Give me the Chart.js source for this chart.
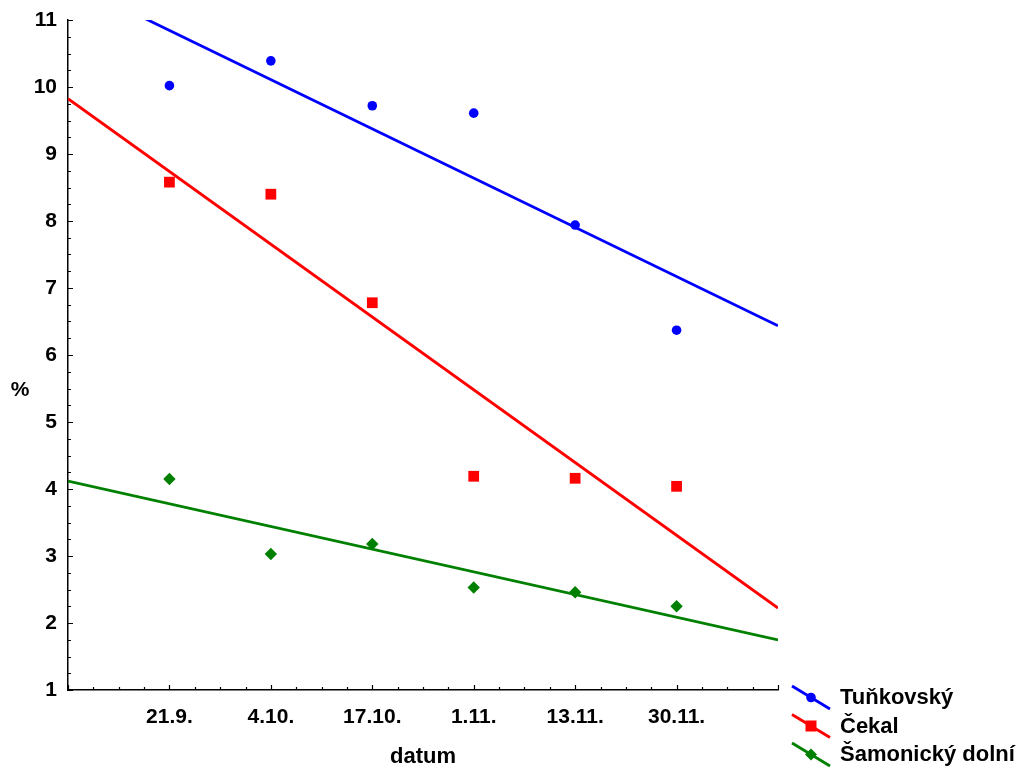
<!DOCTYPE html>
<html><head><meta charset="utf-8">
<script src="https://cdn.jsdelivr.net/npm/chart.js@4/dist/chart.umd.min.js"></script>
<style>html,body{margin:0;padding:0;background:#fff}#wrap{width:1027px;height:769px}</style>
</head><body><div id="wrap"><canvas id="c" width="1027" height="769"></canvas></div>
<script>
const categories = ['21.9.', '4.10.', '17.10.', '1.11.', '13.11.', '30.11.'];
const tunkovsky = [10.02, 10.39, 9.72, 9.61, 7.94, 6.37];
const cekal = [8.58, 8.40, 6.78, 4.19, 4.16, 4.04];
const samonicky = [4.15, 3.03, 3.18, 2.53, 2.46, 2.25];
const seriesNames = ['Tuňkovský', 'Čekal', 'Šamonický dolní'];
const seriesColors = ['#0000ff', '#ff0000', '#008000'];
const seriesMarkers = ['circle', 'rect', 'rectRot'];
const yTickValues = [1, 2, 3, 4, 5, 6, 7, 8, 9, 10, 11];
const xAxisLabel = 'datum';
const yAxisLabel = '%';

const X_MIN = 0, X_MAX = categories.length + 1;
const FONT = '"Liberation Sans", Arial, sans-serif';

function points(vals) { return vals.map((v, i) => ({ x: i + 1, y: v })); }
function trend(vals) {
  const n = vals.length;
  const xs = vals.map((_, i) => i + 1);
  const mx = xs.reduce((a, b) => a + b, 0) / n;
  const my = vals.reduce((a, b) => a + b, 0) / n;
  let sxy = 0, sxx = 0;
  for (let i = 0; i < n; i++) { sxy += (xs[i] - mx) * (vals[i] - my); sxx += (xs[i] - mx) ** 2; }
  const b = sxy / sxx, a = my - b * mx;
  return [{ x: X_MIN, y: a + b * X_MIN }, { x: X_MAX, y: a + b * X_MAX }];
}

const markerRadius = [4.8, 7.6, 6.2];
const allSeries = [tunkovsky, cekal, samonicky];
const datasets = [];
allSeries.forEach((vals, i) => {
  datasets.push({
    label: seriesNames[i] + ' trend', data: trend(vals), showLine: true,
    borderColor: seriesColors[i], borderWidth: 2.8, pointRadius: 0, fill: false
  });
});
allSeries.forEach((vals, i) => {
  datasets.push({
    label: seriesNames[i], data: points(vals), showLine: false,
    pointStyle: seriesMarkers[i], pointRadius: markerRadius[i],
    backgroundColor: seriesColors[i], borderColor: seriesColors[i], borderWidth: 0
  });
});

const decor = {
  id: 'decor',
  afterDraw(chart) {
    const ctx = chart.ctx, xs = chart.scales.x, ys = chart.scales.y, ca = chart.chartArea;
    ctx.save();
    ctx.strokeStyle = '#000'; ctx.lineWidth = 1.2;
    ctx.beginPath();
    for (let v = ys.min; v <= ys.max + 1e-9; v += 0.25) {
      const y = Math.round(ys.getPixelForValue(v)) + 0.5;
      const len = Math.abs(v - Math.round(v)) < 1e-9 ? 5 : 3;
      ctx.moveTo(ca.left, y); ctx.lineTo(ca.left + len, y);
    }
    for (let v = xs.min; v <= xs.max + 1e-9; v += 0.25) {
      const x = Math.round(xs.getPixelForValue(v)) + 0.5;
      const len = Math.abs(v - Math.round(v)) < 1e-9 ? 5 : 3;
      ctx.moveTo(x, ca.bottom); ctx.lineTo(x, ca.bottom - len);
    }
    ctx.stroke();
    ctx.fillStyle = '#000';
    ctx.textAlign = 'center'; ctx.textBaseline = 'middle';
    ctx.font = 'bold 21px ' + FONT;
    ctx.fillText(yAxisLabel, 20, 390);
    ctx.font = 'bold 22px ' + FONT;
    ctx.fillText(xAxisLabel, (ca.left + ca.right) / 2, 757);
    const lx0 = 792, lx1 = 830, ly0 = 686, dy = 28.5;
    ctx.font = 'bold 22px ' + FONT;
    seriesNames.forEach((name, i) => {
      const y0 = ly0 + i * dy, y1 = y0 + 23;
      ctx.strokeStyle = seriesColors[i]; ctx.lineWidth = 2.8;
      ctx.beginPath(); ctx.moveTo(lx0, y0); ctx.lineTo(lx1, y1); ctx.stroke();
      const mx = (lx0 + lx1) / 2, my = (y0 + y1) / 2;
      ctx.fillStyle = seriesColors[i];
      if (seriesMarkers[i] === 'circle') { ctx.beginPath(); ctx.arc(mx, my, 4.8, 0, Math.PI * 2); ctx.fill(); }
      else if (seriesMarkers[i] === 'rect') { ctx.fillRect(mx - 5.5, my - 5.5, 11, 11); }
      else { ctx.beginPath(); ctx.moveTo(mx, my - 6); ctx.lineTo(mx + 6, my); ctx.lineTo(mx, my + 6); ctx.lineTo(mx - 6, my); ctx.closePath(); ctx.fill(); }
      ctx.fillStyle = '#000'; ctx.textAlign = 'left';
      ctx.fillText(name, 840, y0 + 12);
    });
    ctx.restore();
  }
};

new Chart(document.getElementById('c'), {
  type: 'scatter',
  data: { datasets },
  options: {
    responsive: false, animation: false,
    layout: { padding: { left: 0, top: 20, right: 249, bottom: 0 } },
    plugins: { legend: { display: false }, tooltip: { enabled: false } },
    scales: {
      x: {
        type: 'linear', min: X_MIN, max: X_MAX,
        afterFit: s => { s.height = 79; s.paddingLeft = 0; s.paddingRight = 0; },
        afterBuildTicks: s => { s.ticks = categories.map((_, i) => ({ value: i + 1 })); },
        ticks: {
          autoSkip: false, maxRotation: 0, padding: 15, color: '#000',
          font: { family: FONT, size: 21, weight: 'bold' },
          callback: v => categories[v - 1] ?? ''
        },
        grid: { display: false, drawTicks: false },
        border: { display: true, color: '#000', width: 1.5 }
      },
      y: {
        type: 'linear', min: 1, max: 11,
        afterFit: s => { s.width = 68; s.paddingTop = 0; s.paddingBottom = 0; },
        afterBuildTicks: s => { s.ticks = yTickValues.map(v => ({ value: v })); },
        ticks: {
          padding: 11, color: '#000',
          font: { family: FONT, size: 21, weight: 'bold' }
        },
        grid: { display: false, drawTicks: false },
        border: { display: true, color: '#000', width: 1.5 }
      }
    }
  },
  plugins: [decor]
});
</script></body></html>
